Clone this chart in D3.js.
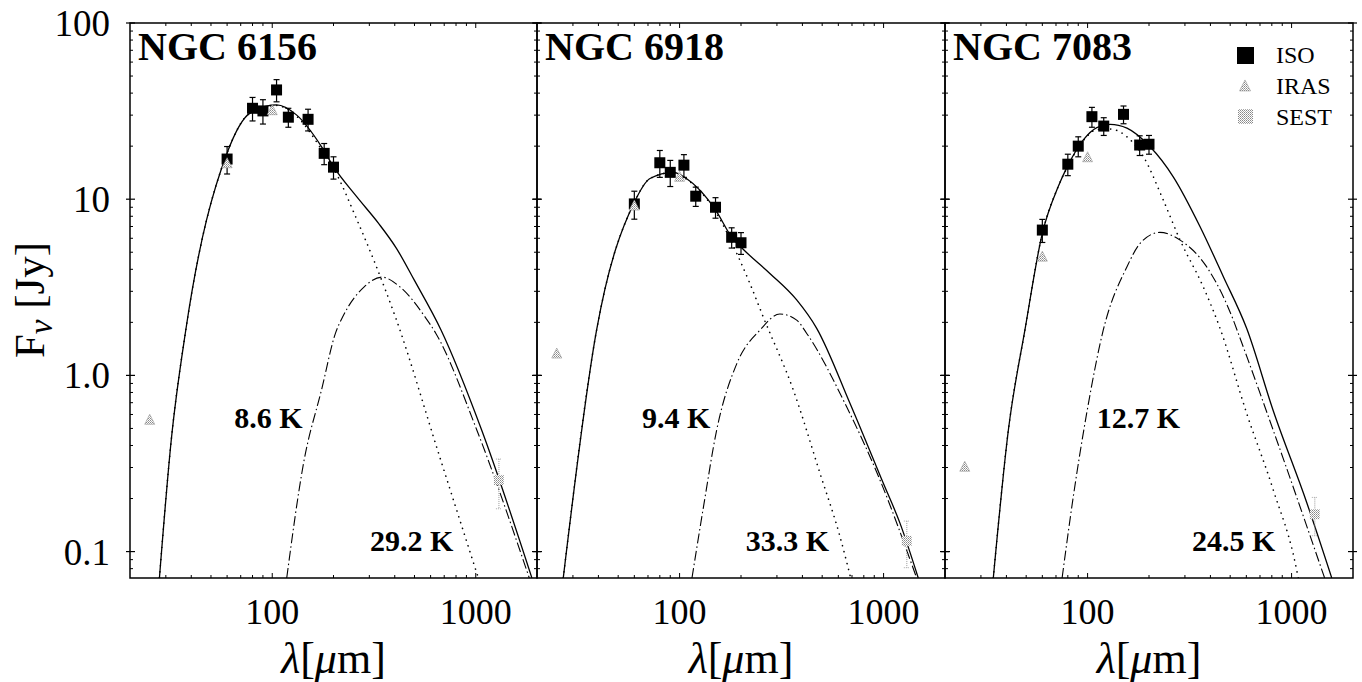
<!DOCTYPE html>
<html>
<head>
<meta charset="utf-8">
<script src="https://cdn.jsdelivr.net/npm/d3@7"></script>
<style>
  body { margin: 0; background: #fff; }
  svg { display: block; }
  text { font-family: "Liberation Serif", "Times New Roman", serif; fill: #000; }
</style>
</head>
<body>
<div id="chart"></div>
<script>
// ---- data ----
const galaxies = ["NGC 6156", "NGC 6918", "NGC 7083"];
const coldTemp = ["8.6 K", "9.4 K", "12.7 K"];
const warmTemp = ["29.2 K", "33.3 K", "24.5 K"];

// ISO photometry (µm, Jy, ±Jy)
const isoLambda = [60, 80, 90, 105, 120, 150, 180, 200];
const isoFlux = [
  [16.9, 32.8, 31.7, 41.7, 29.2, 28.4, 18.2, 15.2],
  [9.4, 16.1, 14.2, 15.6, 10.4, 9.0, 6.08, 5.66],
  [6.68, 15.8, 20.0, 29.4, 26.0, 30.3, 20.3, 20.5]
];
const isoErr = [
  [3.0, 5.0, 5.0, 6.0, 3.6, 4.0, 2.5, 2.2],
  [1.7, 2.8, 2.4, 2.3, 1.3, 1.2, 0.8, 0.8],
  [1.0, 2.2, 2.6, 3.8, 3.0, 3.5, 2.6, 2.5]
];

// IRAS photometry
const irasLambda = [25, 60, 100];
const irasFlux = [
  [0.56, 16.0, 32.0],
  [1.33, 9.2, 13.4],
  [0.303, 4.72, 17.3]
];

// SEST 1.3 mm
const sestLambda = [1300];
const sestFlux = [[0.255], [0.115], [0.163]];
const sestErr = [[0.08], [0.034], [0.04]];

// fitted curves [µm, Jy]
const totalFit = [
  [[27.9,0.0708],[31.9,0.43],[37.6,1.81],[60,18.3],[77.8,30.8],[105,34.3],[131.5,30.1],[174.5,19.9],[200,15.3],[260.6,10.3],[333,7.29],[407.7,5.26],[499,3.47],[675,1.81],[1069,0.49],[1888,0.0708]],
  [[26.9,0.0708],[39.2,1.81],[60,9.6],[71.6,13.1],[93,14.2],[108,13.1],[150,8.7],[180,6.1],[205,5.2],[277,3.79],[375,2.68],[470,1.85],[684,0.695],[997,0.244],[1203,0.145],[1479,0.0708]],
  [[34.5,0.0708],[40.9,0.49],[49.3,1.81],[60,6.4],[71.8,11.8],[80,15.5],[95.3,21.7],[111,25.5],[129,26.6],[156,25.3],[202,19.9],[263,13.4],[356,6.98],[463,3.63],[602,1.85],[813,0.63],[1186,0.19],[1574,0.0708]]
];
const warmFit = [
  [[27.9,0.0708],[31.9,0.43],[37.6,1.81],[60,18.3],[77.8,30.8],[105,34.0],[131.5,29.6],[174.5,19.2],[200,15.0],[261,7.62],[320,4.33],[408,2.06],[661,0.353],[1030,0.0708]],
  [[26.9,0.0708],[39.2,1.81],[60,9.6],[71.6,13.1],[93,14.2],[108,13.0],[150,8.5],[194,4.72],[221,3.33],[257,2.15],[361,0.826],[488,0.278],[611,0.122],[690,0.0708]],
  [[34.5,0.0708],[40.9,0.49],[49.3,1.81],[60,6.4],[71.8,11.8],[80,15.4],[95.3,21.5],[111,24.8],[129,25.0],[156,22.6],[188,17.4],[235,9.89],[284,5.86],[369,3.18],[446,1.85],[602,0.61],[813,0.224],[1059,0.0787],[1078,0.0708]]
];
const coldFit = [
  [[117.8,0.0708],[142.5,0.317],[174.6,0.826],[205,1.75],[222,2.15],[283,3.18],[346,3.61],[424,3.18],[563,2.15],[637,1.73],[1012,0.49],[1833,0.0708]],
  [[115,0.0708],[131,0.18],[152,0.49],[191,1.17],[248,1.81],[310,2.23],[375,2.06],[420,1.73],[659,0.663],[960,0.255],[1452,0.0708]],
  [[75,0.0708],[85.1,0.205],[99,0.61],[119.4,1.81],[156,4.14],[181,5.62],[226,6.48],[284,5.86],[383,4.14],[518,2.06],[548,1.73],[845,0.43],[1452,0.0708]]
];

const xDomain = [20, 2000];
const yDomain = [0.0708, 100];
const xTickLabels = [100, 1000];
const yTickValues = [0.1, 1, 10, 100];
const yTickLabels = ["0.1", "1.0", "10", "100"];
const legendItems = ["ISO", "IRAS", "SEST"];

// ---- layout ----
const W = 1362, H = 682;
const plotTop = 23, plotBottom = 578;
const panelLeft = [130, 537, 945];
const panelRight = [537, 945, 1353];
// temperature label anchors (µm, Jy)
const coldLabelAt = [[65, 0.50], [65.5, 0.50], [111, 0.50]];
const warmLabelAt = [[302, 0.1005], [211, 0.1005], [325, 0.1005]];

const svg = d3.select("#chart").append("svg")
  .attr("width", W).attr("height", H);

const defs = svg.append("defs");
const pat = defs.append("pattern")
  .attr("id", "stipple").attr("width", 2).attr("height", 2)
  .attr("patternUnits", "userSpaceOnUse");
pat.append("rect").attr("width", 2).attr("height", 2).attr("fill", "#fff");
pat.append("rect").attr("width", 1).attr("height", 1).attr("fill", "#888");
pat.append("rect").attr("x", 1).attr("y", 1).attr("width", 1).attr("height", 1).attr("fill", "#aaa");

const y = d3.scaleLog().domain(yDomain).range([plotBottom, plotTop]);

const triangle = (cx, cy, s) =>
  `M${cx},${cy - s * 0.55}L${cx + s * 0.5},${cy + s * 0.45}L${cx - s * 0.5},${cy + s * 0.45}Z`;

galaxies.forEach((name, p) => {
  const x = d3.scaleLog().domain(xDomain).range([panelLeft[p], panelRight[p]]);
  const g = svg.append("g");

  defs.append("clipPath").attr("id", "clip" + p)
    .append("rect")
    .attr("x", panelLeft[p]).attr("y", plotTop)
    .attr("width", panelRight[p] - panelLeft[p]).attr("height", plotBottom - plotTop);

  // ticks (inside, both edges)
  const tg = g.append("g").attr("stroke", "#000");
  y.ticks().forEach(v => {
    const major = yTickValues.includes(+v.toPrecision(3));
    const yy = y(v);
    [panelLeft[p], panelRight[p]].forEach((ex, side) => {
      const dir = side === 0 ? 1 : -1;
      tg.append("line")
        .attr("x1", ex - (major ? 4 : 0) * dir).attr("x2", ex + (major ? 5 : 3) * dir)
        .attr("y1", yy).attr("y2", yy)
        .attr("stroke-width", major ? 1.2 : 1);
    });
  });
  x.ticks().forEach(v => {
    const major = xTickLabels.includes(v);
    const xx = x(v);
    if (xx <= panelLeft[p] + 1 || xx >= panelRight[p] - 1) return;
    tg.append("line").attr("x1", xx).attr("x2", xx)
      .attr("y1", plotBottom).attr("y2", plotBottom - (major ? 5 : 3)).attr("stroke-width", 1);
    tg.append("line").attr("x1", xx).attr("x2", xx)
      .attr("y1", plotTop).attr("y2", plotTop + (major ? 5 : 3)).attr("stroke-width", 1);
  });

  // fitted curves
  const line = d3.line()
    .x(d => x(d[0])).y(d => y(d[1]))
    .curve(d3.curveMonotoneX);
  const cg = g.append("g").attr("clip-path", `url(#clip${p})`).attr("fill", "none").attr("stroke", "#000");
  cg.append("path").attr("d", line(warmFit[p]))
    .attr("stroke-width", 1.6).attr("stroke-dasharray", "0.1 6").attr("stroke-linecap", "round");
  cg.append("path").attr("d", line(coldFit[p]))
    .attr("stroke-width", 1.1).attr("stroke-dasharray", "10 3 1.5 3");
  cg.append("path").attr("d", line(totalFit[p]))
    .attr("stroke-width", 1.3);

  // ISO points with error bars
  const mg = g.append("g").attr("clip-path", `url(#clip${p})`);
  isoLambda.forEach((l, i) => {
    const f = isoFlux[p][i], e = isoErr[p][i];
    const xx = x(l), y1 = y(f + e), y0 = y(f - e);
    mg.append("line").attr("x1", xx).attr("x2", xx).attr("y1", y1).attr("y2", y0)
      .attr("stroke", "#000").attr("stroke-width", 1.2);
    [y1, y0].forEach(yy => mg.append("line")
      .attr("x1", xx - 3).attr("x2", xx + 3).attr("y1", yy).attr("y2", yy)
      .attr("stroke", "#000").attr("stroke-width", 1.2));
    mg.append("rect").attr("x", xx - 5.5).attr("y", y(f) - 5.5)
      .attr("width", 11).attr("height", 11).attr("fill", "#000");
  });

  // IRAS triangles
  irasLambda.forEach((l, i) => {
    mg.append("path").attr("d", triangle(x(l), y(irasFlux[p][i]), 10))
      .attr("fill", "url(#stipple)").attr("stroke", "#999").attr("stroke-width", 0.6);
  });

  // SEST points
  sestLambda.forEach((l, i) => {
    const f = sestFlux[p][i], e = sestErr[p][i];
    const xx = x(l);
    mg.append("line").attr("x1", xx).attr("x2", xx).attr("y1", y(f + e)).attr("y2", y(f - e))
      .attr("stroke", "#999").attr("stroke-width", 1).attr("stroke-dasharray", "1 1");
    [f + e, f - e].forEach(v => mg.append("line")
      .attr("x1", xx - 3).attr("x2", xx + 3).attr("y1", y(v)).attr("y2", y(v))
      .attr("stroke", "#aaa").attr("stroke-width", 1).attr("stroke-dasharray", "1 1"));
    mg.append("rect").attr("x", xx - 5).attr("y", y(f) - 5).attr("width", 10).attr("height", 10)
      .attr("fill", "url(#stipple)");
  });

  // frame
  g.append("rect")
    .attr("x", panelLeft[p]).attr("y", plotTop)
    .attr("width", panelRight[p] - panelLeft[p]).attr("height", plotBottom - plotTop)
    .attr("fill", "none").attr("stroke", "#000").attr("stroke-width", 1.5);

  // titles & annotations
  g.append("text").attr("x", panelLeft[p] + 8).attr("y", 60)
    .attr("font-size", 40).attr("font-weight", "bold").text(name);
  g.append("text").attr("x", x(coldLabelAt[p][0])).attr("y", y(coldLabelAt[p][1]))
    .attr("font-size", 30).attr("font-weight", "bold").text(coldTemp[p]);
  g.append("text").attr("x", x(warmLabelAt[p][0])).attr("y", y(warmLabelAt[p][1]))
    .attr("font-size", 30).attr("font-weight", "bold").text(warmTemp[p]);

  // x tick labels + axis title
  xTickLabels.forEach(v => g.append("text")
    .attr("x", x(v)).attr("y", 624).attr("text-anchor", "middle")
    .attr("font-size", 36).text(v));
  const xt = g.append("text")
    .attr("x", (panelLeft[p] + panelRight[p]) / 2).attr("y", 673)
    .attr("text-anchor", "middle").attr("font-size", 44);
  xt.append("tspan").attr("font-style", "italic").text("λ");
  xt.append("tspan").text("[");
  xt.append("tspan").attr("font-style", "italic").text("μ");
  xt.append("tspan").text("m]");
});

// y tick labels
yTickValues.forEach((v, i) => svg.append("text")
  .attr("x", 110).attr("y", y(v) + 13).attr("text-anchor", "end")
  .attr("font-size", 37).text(yTickLabels[i]));

// y axis title
const yt = svg.append("text")
  .attr("transform", "translate(44,300) rotate(-90)")
  .attr("text-anchor", "middle").attr("font-size", 43);
yt.append("tspan").text("F");
yt.append("tspan").attr("font-style", "italic").attr("font-size", 33).attr("dy", 8).text("ν");
yt.append("tspan").attr("dy", -8).text(" [Jy]");

// legend (panel 3, top right)
const lg = svg.append("g");
legendItems.forEach((lab, i) => {
  const cy = 55 + i * 31;
  if (i === 0) {
    lg.append("rect").attr("x", 1237).attr("y", cy - 8).attr("width", 17).attr("height", 17).attr("fill", "#000");
  } else if (i === 1) {
    lg.append("path").attr("d", triangle(1245, cy, 11))
      .attr("fill", "url(#stipple)").attr("stroke", "#999").attr("stroke-width", 0.6);
  } else {
    lg.append("rect").attr("x", 1238).attr("y", cy - 8).attr("width", 15).attr("height", 15)
      .attr("fill", "url(#stipple)");
  }
  lg.append("text").attr("x", 1276).attr("y", cy + 8).attr("font-size", 24).text(lab);
});
</script>
</body>
</html>
